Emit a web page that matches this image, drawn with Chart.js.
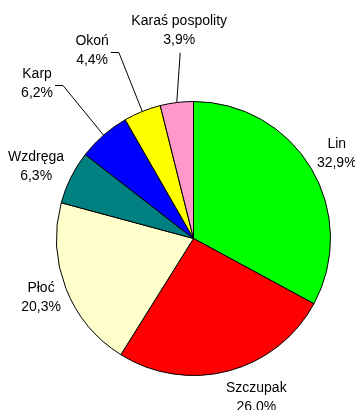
<!DOCTYPE html>
<html lang="pl">
<head>
<meta charset="utf-8">
<title>Udział gatunków ryb</title>
<script src="https://cdn.jsdelivr.net/npm/chart.js@4.4.0/dist/chart.umd.min.js"></script>
<style>
  html, body { margin: 0; padding: 0; background: #fff; }
  #wrap { width: 355px; height: 410px; }
</style>
</head>
<body>
<div id="wrap"><canvas id="fishChart" width="355" height="410"></canvas></div>
<script>
// udział gatunków w połowach (%)
const species = ['Lin', 'Szczupak', 'Płoć', 'Wzdręga', 'Karp', 'Okoń', 'Karaś pospolity'];
const shares = [32.9, 26.0, 20.3, 6.3, 6.2, 4.4, 3.9];
const shareLabels = ['32,9%', '26.0%', '20,3%', '6,3%', '6,2%', '4,4%', '3,9%'];
const sliceColors = ['#00ff00', '#ff0000', '#ffffcc', '#008080', '#0000ff', '#ffff00', '#ff99cc'];

// gdzie stoją etykiety: odległość od środka (w promieniach), przesunięcie kąta (stopnie), linia odniesienia
const labelLayout = [
    { dist: 1.217, shift: 0 },
    { dist: 1.242, shift: -6.9 },
    { dist: 1.193, shift: 0.3 },
    { dist: 1.264, shift: -1.8 },
    { dist: 1.611, shift: -4.1, leader: 'side' },
    { dist: 1.563, shift: -6.3, leader: 'side' },
    { dist: 1.526, shift: 3.1, leader: 'bottom' },
];

const LINE_HEIGHT = 19;

/**
 * Etykiety wycinków (nazwa + procent) i linie odniesienia dla małych wycinków.
 */
const pieLabels = {
    id: 'pieLabels',
    afterDatasetsDraw(chart) {
        const ctx = chart.ctx;
        const meta = chart.getDatasetMeta(0);

        ctx.save();
        ctx.font = '14px "Liberation Sans", Arial, sans-serif';
        ctx.fillStyle = '#000';
        ctx.strokeStyle = '#000';
        ctx.lineWidth = 1;
        ctx.textAlign = 'center';
        ctx.textBaseline = 'middle';

        meta.data.forEach((arc, i) => {
            const { x, y, startAngle, endAngle, outerRadius } = arc.getProps(
                ['x', 'y', 'startAngle', 'endAngle', 'outerRadius'], true);
            const mid = (startAngle + endAngle) / 2;
            const layout = labelLayout[i];
            const a = mid + layout.shift * Math.PI / 180;
            const lx = x + Math.cos(a) * outerRadius * layout.dist;
            const ly = y + Math.sin(a) * outerRadius * layout.dist + 0.7;
            const lines = [species[i], shareLabels[i]];

            lines.forEach((text, k) => {
                ctx.fillText(text, lx, ly + (k - 0.5) * LINE_HEIGHT);
            });

            if (!layout.leader) return;

            const ex = x + Math.cos(mid) * outerRadius;
            const ey = y + Math.sin(mid) * outerRadius;
            ctx.beginPath();
            if (layout.leader === 'side') {
                const w = Math.max(...lines.map(t => ctx.measureText(t).width));
                const sx = lx + w / 2 + 2;
                const sy = Math.round(ly + 1.5) + 0.5;
                ctx.moveTo(sx, sy);
                ctx.lineTo(sx + 8, sy);
            } else {
                ctx.moveTo(lx + 1, ly + 22);
            }
            ctx.lineTo(ex, ey);
            ctx.stroke();
        });

        ctx.restore();
    },
};

new Chart(document.getElementById('fishChart'), {
    type: 'pie',
    data: {
        labels: species,
        datasets: [{
            data: shares,
            backgroundColor: sliceColors,
            borderColor: '#000',
            borderWidth: 1,
        }],
    },
    options: {
        responsive: false,
        animation: false,
        layout: {
            padding: { left: 56, right: 24, top: 101, bottom: 34 },
        },
        plugins: {
            legend: { display: false },
            tooltip: { enabled: false },
        },
    },
    plugins: [pieLabels],
});
</script>
</body>
</html>
